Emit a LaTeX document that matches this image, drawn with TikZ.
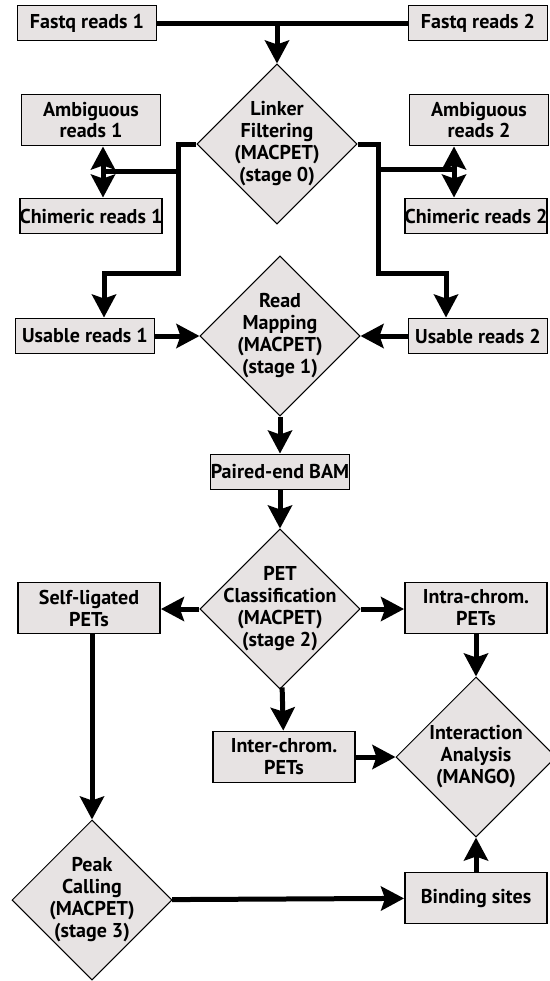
\documentclass[tikz,border=0pt]{standalone}
\usepackage{fontspec}
\setmainfont{PT Sans}
\usetikzlibrary{shapes.geometric,arrows.meta}
\definecolor{boxgray}{RGB}{231,227,227}
\tikzset{
  box/.style={draw, line width=1.1pt, fill=boxgray, align=center, inner sep=0pt, minimum width=2.78cm, minimum height=0.7cm},
  tallbox/.style={box, minimum height=1.02cm},
  decision/.style={diamond, draw, line width=0.6pt, fill=boxgray, inner sep=0pt, minimum width=3.2cm, minimum height=3.2cm},
  txt/.style={align=center},
  flow/.style={line width=0.1cm, ->},
  link/.style={line width=0.1cm},
  twoway/.style={line width=0.1cm, <->},
  >={Stealth[length=0.46cm, width=0.48cm, inset=0.08cm]}
}
\begin{document}
\begin{tikzpicture}[x=0.02cm, y=-0.02cm, font=\bfseries\fontsize{11.4}{12.5}\selectfont]
\useasboundingbox (0,0) rectangle (549,981);
\node[box] (fq1) at (87,23) {Fastq reads 1};
\node[box] (fq2) at (478,23) {Fastq reads 2};
\node[decision, label={[txt]center:Linker\\Filtering\\(MACPET)\\(stage 0)}] (lf) at (277,144) {};
\node[tallbox] (amb1) at (91,120) {Ambiguous\\reads 1};
\node[box] (chi1) at (91,216) {Chimeric reads 1};
\node[tallbox] (amb2) at (479,120) {Ambiguous\\reads 2};
\node[box] (chi2) at (476,216) {Chimeric reads 2};
\node[box] (use1) at (85,336) {Usable reads 1};
\node[decision, label={[txt]center:Read\\Mapping\\(MACPET)\\(stage 1)}] (rm) at (280,336) {};
\node[box] (use2) at (478,336) {Usable reads 2};
\node[box] (bam) at (280,472) {Paired-end BAM};
\node[decision, label={[txt]center:PET\\Classification\\(MACPET)\\(stage 2)}] (cls) at (280,609) {};
\node[tallbox, minimum width=2.84cm] (self) at (89,608) {Self-ligated\\PETs};
\node[tallbox, minimum width=2.84cm] (intra) at (476,608) {Intra-chrom.\\PETs};
\node[tallbox, minimum width=2.84cm] (inter) at (284,757) {Inter-chrom.\\PETs};
\node[decision, label={[txt]center:Interaction\\Analysis\\(MANGO)}] (mango) at (476,757) {};
\node[decision, label={[txt]center:Peak\\Calling\\(MACPET)\\(stage 3)}] (peak) at (92,900) {};
\node[tallbox, minimum width=2.84cm] (bind) at (476,898) {Binding sites};
\coordinate (lbend) at (178,273);
\coordinate (ldrop) at (104,273);
\coordinate (lhub) at (103,171);
\coordinate (rbend) at (378,273);
\coordinate (rdrop) at (446,273);
\coordinate (rhub) at (454,169);
\draw[link] (fq1) -- (fq2);
\draw[flow] (fq1.east -| lf.north) -- (lf.north);
\draw[flow] (lf.west) -| (lbend) -- (ldrop) -- (ldrop |- use1.north);
\draw[link] (lbend |- lhub) -- (lhub);
\draw[twoway] (amb1.south -| lhub) -- (chi1.north -| lhub);
\draw[flow] (lf.east) -| (rbend) -- (rdrop) -- (rdrop |- use2.north);
\draw[link] (rbend |- rhub) -- (rhub);
\draw[twoway] (amb2.south -| rhub) -- (chi2.north -| rhub);
\draw[flow] (use1) -- (rm);
\draw[flow] (use2) -- (rm);
\draw[flow] (rm) -- (bam);
\draw[flow] (bam) -- (cls);
\draw[flow] (cls.west) -- (cls.west -| self.east);
\draw[flow] (cls.east) -- (cls.east -| intra.west);
\draw[flow] (cls) -- (inter);
\draw[flow] (inter) -- (mango);
\draw[flow] (intra) -- (mango);
\draw[flow] (self.south -| peak.north) -- (peak.north);
\draw[flow] (peak) -- (bind);
\draw[flow] (bind) -- (mango);
\end{tikzpicture}
\end{document}
